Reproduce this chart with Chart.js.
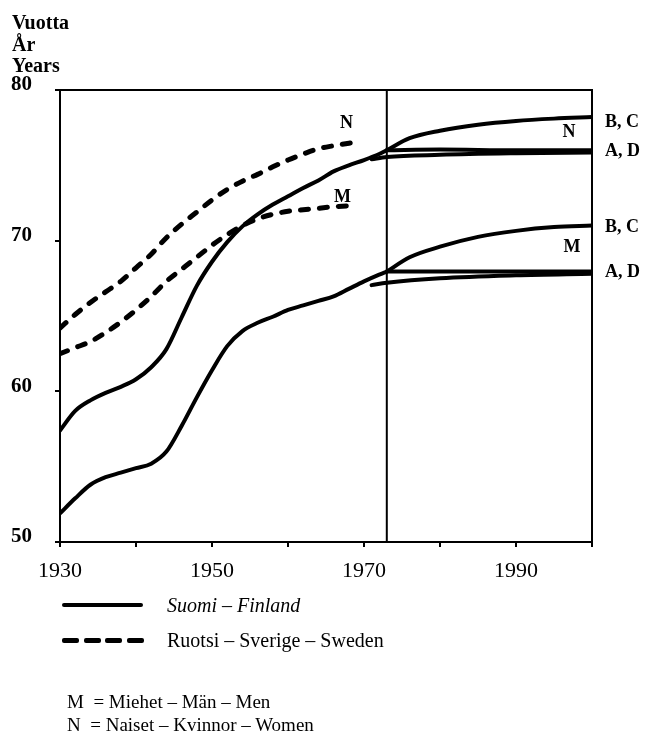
<!DOCTYPE html>
<html>
<head>
<meta charset="utf-8">
<script src="https://cdn.jsdelivr.net/npm/chart.js@4.4.1/dist/chart.umd.min.js"></script>
<style>
  body { margin: 0; background: #fff; }
  #wrap { position: relative; width: 649px; height: 743px; font-family: "Liberation Serif", serif; color: #000; }
  #chart { position: absolute; left: 0; top: 0; }
  .txt { position: absolute; white-space: nowrap; line-height: 1; }
  #ytitle { left: 12px; top: 12px; font-size: 20px; font-weight: bold; line-height: 21.5px; }
  .solid { position: absolute; left: 62px; top: 603px; width: 81px; height: 4px; background: #000; border-radius: 2px; }
  .dashed { position: absolute; left: 62px; top: 638px; display: flex; }
  .dashed span { width: 17px; height: 5px; background: #000; border-radius: 2px; margin-right: 4.5px; }
</style>
</head>
<body>
<div id="wrap">
  <canvas id="chart" width="649" height="743"></canvas>
  <div id="ytitle" class="txt">Vuotta<br>År<br>Years</div>
  <div class="solid"></div>
  <div class="txt" style="left:167px; top:595px; font-size:20px; font-style:italic;">Suomi – Finland</div>
  <div class="dashed"><span></span><span></span><span></span><span></span></div>
  <div class="txt" style="left:167px; top:630px; font-size:20px;">Ruotsi – Sverige – Sweden</div>
  <div class="txt" style="left:67px; top:692px; font-size:19px;">M&nbsp; = Miehet – Män – Men</div>
  <div class="txt" style="left:67px; top:715px; font-size:19px;">N&nbsp; = Naiset – Kvinnor – Women</div>
</div>
<script>
// life expectancy at birth, years
const finWomenYears = [1930, 1932, 1934, 1936, 1938, 1940, 1942, 1944, 1946, 1948, 1950, 1952, 1954, 1956, 1958, 1960, 1962, 1964, 1966, 1968, 1970, 1972, 1973];
const finWomen = [57.4, 58.7, 59.4, 59.9, 60.3, 60.8, 61.6, 62.8, 64.9, 67.0, 68.6, 69.9, 70.95, 71.75, 72.4, 72.95, 73.5, 74.0, 74.6, 75.0, 75.35, 75.75, 76.0];
const finMenYears = [1930, 1932, 1934, 1936, 1938, 1940, 1942, 1944, 1946, 1948, 1950, 1952, 1954, 1956, 1958, 1960, 1962, 1964, 1966, 1968, 1970, 1972, 1973];
const finMen = [51.9, 52.9, 53.8, 54.3, 54.6, 54.9, 55.2, 56.0, 57.7, 59.6, 61.4, 63.0, 64.0, 64.55, 64.95, 65.4, 65.7, 66.0, 66.3, 66.8, 67.3, 67.75, 67.95];

const sweYears = [1930, 1932, 1934, 1936, 1938, 1940, 1942, 1944, 1946, 1948, 1950, 1952, 1954, 1956, 1958, 1960, 1962, 1964, 1966, 1969];
const sweWomen = [64.2, 65.1, 65.9, 66.6, 67.3, 68.2, 69.1, 70.2, 71.1, 71.9, 72.7, 73.4, 73.95, 74.4, 74.9, 75.35, 75.75, 76.1, 76.3, 76.55];
const sweMen = [62.5, 62.9, 63.3, 63.9, 64.6, 65.4, 66.3, 67.3, 68.1, 68.9, 69.7, 70.4, 71.0, 71.45, 71.75, 71.95, 72.05, 72.15, 72.25, 72.35];

// projections after 1973 (scenarios)
const forecastStart = 1973;
const projYearsBC = [1973, 1976, 1980, 1985, 1990, 1995, 2000];
const finWomenBC = [76.0, 76.8, 77.3, 77.7, 77.95, 78.1, 78.2];
const finMenBC = [67.95, 68.9, 69.6, 70.25, 70.65, 70.9, 71.0];
const projYearsA = [1973, 1980, 1990, 2000];
const finWomenA = [76.0, 76.05, 76.0, 76.0];
const finMenA = [67.95, 67.95, 67.95, 67.95];
const projYearsD = [1971, 1973, 1980, 1990, 2000];
const finWomenD = [75.4, 75.55, 75.7, 75.8, 75.85];
const finMenD = [67.05, 67.2, 67.5, 67.7, 67.8];

const xLabels = ['1930', '1950', '1970', '1990'];
const yTicks = [50, 60, 70, 80];

function pts(xs, ys) {
    return xs.map((x, i) => ({ x: x, y: ys[i] }));
}

function solid(xs, ys) {
    return {
        data: pts(xs, ys),
        borderColor: '#000',
        borderWidth: 4,
        pointRadius: 0,
        cubicInterpolationMode: 'monotone',
        borderCapStyle: 'round',
        fill: false
    };
}

function dashed(xs, ys) {
    return {
        data: pts(xs, ys),
        borderColor: '#000',
        borderWidth: 5,
        borderDash: [8, 11],
        borderCapStyle: 'round',
        pointRadius: 0,
        cubicInterpolationMode: 'monotone',
        fill: false
    };
}

const framePlugin = {
    id: 'frame',
    afterDatasetsDraw(chart) {
        const ctx = chart.ctx;
        const a = chart.chartArea;
        const x = chart.scales.x;
        const y = chart.scales.y;
        ctx.save();
        ctx.strokeStyle = '#000';
        ctx.lineWidth = 2;
        ctx.beginPath();
        ctx.moveTo(a.left, a.top);
        ctx.lineTo(a.right, a.top);
        ctx.lineTo(a.right, a.bottom);
        ctx.stroke();

        const fx = x.getPixelForValue(forecastStart);
        ctx.beginPath();
        ctx.moveTo(fx, a.top);
        ctx.lineTo(fx, a.bottom);
        ctx.stroke();

        ctx.fillStyle = '#000';
        ctx.font = 'bold 18px "Liberation Serif"';
        ctx.textAlign = 'center';
        ctx.textBaseline = 'middle';
        const last = arr => arr[arr.length - 1];
        // series tags
        ctx.fillText('N', x.getPixelForValue(last(sweYears)) - 10, y.getPixelForValue(last(sweWomen)) - 19);
        ctx.fillText('M', x.getPixelForValue(last(sweYears)) - 14, y.getPixelForValue(last(sweMen)) - 8);
        ctx.fillText('N', a.right - 23, y.getPixelForValue(last(finWomenBC)) + 15);
        ctx.fillText('M', a.right - 20, y.getPixelForValue(last(finMenBC)) + 22);

        // scenario tags on the right
        ctx.textAlign = 'left';
        ctx.fillText('B, C', a.right + 13, y.getPixelForValue(last(finWomenBC)) + 5);
        ctx.fillText('A, D', a.right + 13, y.getPixelForValue(last(finWomenA)) + 1);
        ctx.fillText('B, C', a.right + 13, y.getPixelForValue(last(finMenBC)) + 2);
        ctx.fillText('A, D', a.right + 13, y.getPixelForValue(last(finMenA)) + 1);
        ctx.restore();
    }
};

const ctx = document.getElementById('chart').getContext('2d');
const chart = new Chart(ctx, {
    type: 'line',
    data: {
        datasets: [
            solid(finWomenYears, finWomen),
            solid(finMenYears, finMen),
            dashed(sweYears, sweWomen),
            dashed(sweYears, sweMen),
            solid(projYearsBC, finWomenBC),
            solid(projYearsA, finWomenA),
            solid(projYearsD, finWomenD),
            solid(projYearsBC, finMenBC),
            solid(projYearsA, finMenA),
            solid(projYearsD, finMenD)
        ]
    },
    options: {
        responsive: false,
        animation: false,
        layout: { padding: { left: 0, top: 90, right: 57, bottom: 161 } },
        plugins: { legend: { display: false }, tooltip: { enabled: false } },
        scales: {
            x: {
                type: 'linear',
                min: 1930,
                max: 2000,
                afterFit: s => { s.height = 40; },
                border: { color: '#000', width: 2 },
                grid: { drawOnChartArea: false, drawTicks: true, tickLength: 5, color: '#000', lineWidth: 2 },
                ticks: {
                    stepSize: 10,
                    color: '#000',
                    padding: 11,
                    maxRotation: 0,
                    font: { family: 'Liberation Serif', size: 22 },
                    callback: v => xLabels.includes(String(v)) ? String(v) : ''
                }
            },
            y: {
                min: 50,
                max: 80,
                afterFit: s => { s.width = 60; },
                border: { color: '#000', width: 2 },
                grid: { drawOnChartArea: false, drawTicks: true, tickLength: 5, color: '#000', lineWidth: 2 },
                afterBuildTicks: s => { s.ticks = yTicks.map(v => ({ value: v })); },
                ticks: {
                    color: '#000',
                    padding: 23,
                    labelOffset: -5,
                    font: { family: 'Liberation Serif', size: 21, weight: 'bold' }
                }
            }
        }
    },
    plugins: [framePlugin]
});
</script>
</body>
</html>
